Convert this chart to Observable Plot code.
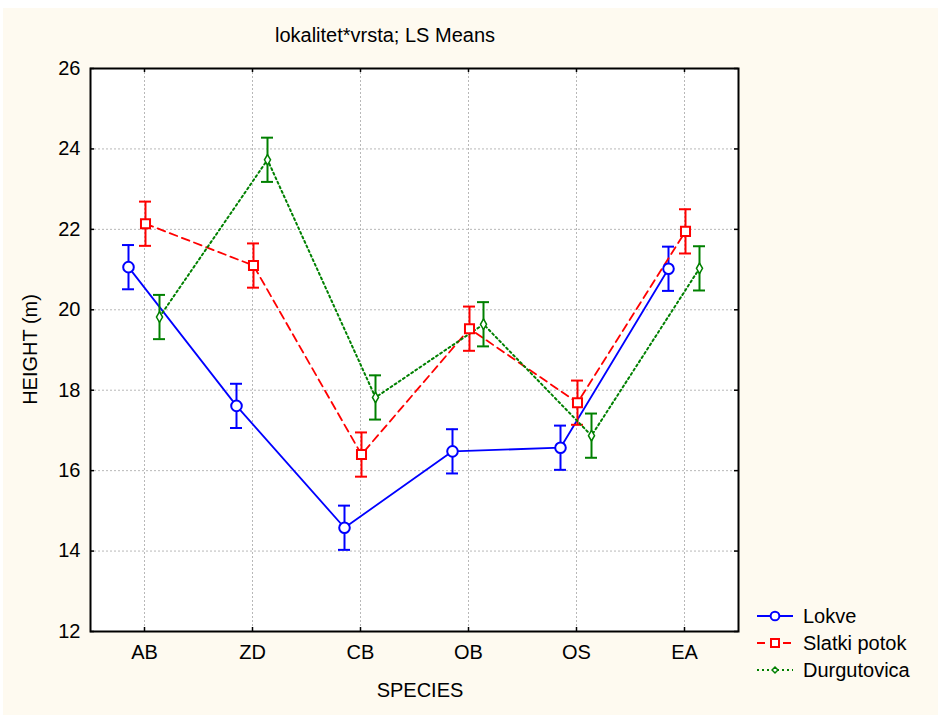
<!DOCTYPE html>
<html><head><meta charset="utf-8">
<script src="https://cdn.jsdelivr.net/npm/d3@7"></script>
<script src="https://cdn.jsdelivr.net/npm/@observablehq/plot@0.6"></script>
<style>
html,body{margin:0;padding:0;background:#fff;}
#wrap{position:relative;width:938px;height:715px;overflow:hidden;font-family:"Liberation Sans",Arial,sans-serif;}
#bg{position:absolute;left:3px;top:8px;right:0;bottom:0;background:#fefaf0;}
#chart{position:absolute;left:0;top:0;}
</style></head><body>
<div id="wrap"><div id="bg"></div><div id="chart"></div></div>
<script>
// ---- data ----
const species = ["AB", "ZD", "CB", "OB", "OS", "EA"];
const seriesNames = ["Lokve", "Slatki potok", "Durgutovica"];
const lokveMeans = [21.06, 17.61, 14.58, 16.48, 16.57, 21.02];
const slatkiMeans = [22.14, 21.10, 16.40, 19.53, 17.69, 21.95];
const durgMeans = [19.82, 23.73, 17.82, 19.64, 16.87, 21.03];
const lokveErr = [0.55, 0.55, 0.55, 0.55, 0.55, 0.55];
const slatkiErr = [0.55, 0.55, 0.55, 0.55, 0.55, 0.55];
const durgErr = [0.55, 0.55, 0.55, 0.55, 0.55, 0.55];
const yTicks = [12, 14, 16, 18, 20, 22, 24, 26];
const titleText = "lokalitet*vrsta; LS Means";
const xLabel = "SPECIES";
const yLabel = "HEIGHT (m)";

// ---- styling ----
const colors = ["#0000ff", "#ff0000", "#008000"];
const dashes = [null, "8,5", "2,3"];
const lineWidths = [1.8, 1.8, 2];
const symbols = ["circle", "square", "diamond"];
const dotR = [5.3, 5.1, 3.2];
const dotSW = [2, 2, 1.5];
const offsets = [-16, 1, 15];
const FS = 20;

const meansBy = [lokveMeans, slatkiMeans, durgMeans];
const errBy = [lokveErr, slatkiErr, durgErr];
const rowsBy = meansBy.map((m, s) => species.map((sp, i) => ({
  species: sp, series: seriesNames[s], mean: m[i], lo: m[i] - errBy[s][i], hi: m[i] + errBy[s][i]
})));

const W = 938, H = 715, mL = 90, mR = 200, mT = 68, mB = 84;
const pw = W - mL - mR, ph = H - mT - mB;
const gridStyle = {stroke: "#b8b8b8", strokeOpacity: 1, strokeDasharray: "2,2", strokeWidth: 1};

const marks = [
  Plot.frame({fill: "white", stroke: null}),
  Plot.gridY(yTicks.slice(1, -1), gridStyle),
  Plot.gridX(species, gridStyle),
  Plot.ruleY(yTicks, {stroke: "black", strokeWidth: 1.5, insetRight: pw - 4}),
  Plot.ruleY(yTicks, {stroke: "black", strokeWidth: 1.5, insetLeft: pw - 4}),
  Plot.ruleX(species, {stroke: "black", strokeWidth: 1.5, insetTop: ph - 4}),
  Plot.ruleX(species, {stroke: "black", strokeWidth: 1.5, insetBottom: ph - 4}),
];
rowsBy.forEach((rows, s) => {
  const c = colors[s], dx = offsets[s];
  marks.push(Plot.line(rows, {x: "species", y: "mean", stroke: c, strokeWidth: lineWidths[s], strokeDasharray: dashes[s], dx}));
  marks.push(Plot.ruleX(rows, {x: "species", y1: "lo", y2: "hi", stroke: c, strokeWidth: 2, dx}));
  marks.push(Plot.tickY(rows, {x: "species", y: "lo", stroke: c, strokeWidth: 2, dx, insetLeft: pw / 12 - 6, insetRight: pw / 12 - 6}));
  marks.push(Plot.tickY(rows, {x: "species", y: "hi", stroke: c, strokeWidth: 2, dx, insetLeft: pw / 12 - 6, insetRight: pw / 12 - 6}));
});
rowsBy.forEach((rows, s) => {
  marks.push(Plot.dot(rows, {x: "species", y: "mean", symbol: symbols[s], r: dotR[s], fill: "white", stroke: colors[s], strokeWidth: dotSW[s], dx: offsets[s]}));
});
marks.push(Plot.axisY(yTicks, {tickSize: 0, tickPadding: 10, fontSize: FS, label: null}));
marks.push(Plot.axisX(species, {tickSize: 0, tickPadding: 13, fontSize: FS, label: null}));
marks.push(Plot.frame({stroke: "black", strokeWidth: 2}));

const chart = Plot.plot({
  width: W, height: H,
  marginLeft: mL, marginRight: mR, marginTop: mT, marginBottom: mB,
  style: {background: "transparent", fontFamily: "'Liberation Sans', Arial, sans-serif", fontSize: FS + "px", color: "black"},
  x: {type: "band", domain: species, padding: 0},
  y: {domain: [12, 26]},
  marks
});
document.getElementById("chart").appendChild(chart);

// ---- text and legend ----
const svg = d3.select(chart);
const font = "'Liberation Sans', Arial, sans-serif";
svg.append("text").attr("x", 385).attr("y", 42).attr("text-anchor", "middle")
  .attr("font-size", FS).attr("font-family", font).attr("fill", "black").text(titleText);
svg.append("text").attr("x", 420).attr("y", 697).attr("text-anchor", "middle")
  .attr("font-size", FS).attr("font-family", font).attr("fill", "black").text(xLabel);
svg.append("text").attr("transform", `translate(37,${mT + ph / 2}) rotate(-90)`).attr("text-anchor", "middle")
  .attr("font-size", FS).attr("font-family", font).attr("fill", "black").text(yLabel);

const legSym = [d3.symbolCircle, d3.symbolSquare, d3.symbolDiamond2];
const legSize = [60, 64, 22];
seriesNames.forEach((name, s) => {
  const cy = 616 + s * 27;
  const g = svg.append("g");
  g.append("line").attr("x1", 757).attr("x2", 793).attr("y1", cy).attr("y2", cy)
    .attr("stroke", colors[s]).attr("stroke-width", lineWidths[s]).attr("stroke-dasharray", dashes[s]);
  g.append("path").attr("d", d3.symbol(legSym[s], legSize[s])()).attr("transform", `translate(775,${cy})`)
    .attr("fill", "white").attr("stroke", colors[s]).attr("stroke-width", dotSW[s]);
  g.append("text").attr("x", 803).attr("y", cy + 7).attr("text-anchor", "start").attr("font-size", FS).attr("font-family", font)
    .attr("fill", "black").text(name);
});
</script>
</body></html>
